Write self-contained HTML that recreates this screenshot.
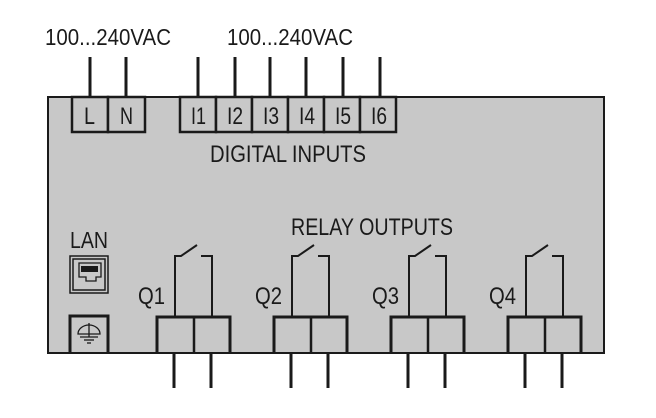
<!DOCTYPE html>
<html><head><meta charset="utf-8"><style>
html,body{margin:0;padding:0;background:#fff;}
svg{display:block;}
text{font-family:"Liberation Sans Narrow","Liberation Sans",sans-serif;fill:#1a1a1a;}
</style></head><body>
<svg width="656" height="418" viewBox="0 0 656 418" xmlns="http://www.w3.org/2000/svg">
<rect x="0" y="0" width="656" height="418" fill="#fff"/>
<text x="45" y="45" font-size="23" textLength="126" lengthAdjust="spacingAndGlyphs">100...240VAC</text>
<text x="227" y="45" font-size="23" textLength="126" lengthAdjust="spacingAndGlyphs">100...240VAC</text>
<g stroke="#1a1a1a" stroke-width="3">
<line x1="90" y1="57" x2="90" y2="97"/><line x1="126" y1="57" x2="126" y2="97"/>
<line x1="198" y1="57" x2="198" y2="97"/><line x1="235" y1="57" x2="235" y2="97"/>
<line x1="270" y1="57" x2="270" y2="97"/><line x1="306" y1="57" x2="306" y2="97"/>
<line x1="343" y1="57" x2="343" y2="97"/><line x1="380" y1="57" x2="380" y2="97"/>
</g>
<rect x="48" y="97" width="556" height="256" fill="#c8c8c8" stroke="#1a1a1a" stroke-width="2"/>
<g fill="#c8c8c8" stroke="#1a1a1a" stroke-width="2.5">
<rect x="72" y="97" width="36" height="35"/><rect x="108" y="97" width="37" height="35"/>
<rect x="180" y="97" width="36" height="35"/><rect x="216" y="97" width="36" height="35"/>
<rect x="252" y="97" width="36" height="35"/><rect x="288" y="97" width="36" height="35"/>
<rect x="324" y="97" width="36" height="35"/><rect x="360" y="97" width="36" height="35"/>
</g>
<g font-size="24">
<text x="84" y="124" textLength="11" lengthAdjust="spacingAndGlyphs">L</text>
<text x="120" y="124" textLength="13" lengthAdjust="spacingAndGlyphs">N</text>
<text x="191" y="124" textLength="15" lengthAdjust="spacingAndGlyphs">I1</text>
<text x="227" y="124" textLength="16" lengthAdjust="spacingAndGlyphs">I2</text>
<text x="263" y="124" textLength="16" lengthAdjust="spacingAndGlyphs">I3</text>
<text x="299" y="124" textLength="16" lengthAdjust="spacingAndGlyphs">I4</text>
<text x="335" y="124" textLength="16" lengthAdjust="spacingAndGlyphs">I5</text>
<text x="371" y="124" textLength="16" lengthAdjust="spacingAndGlyphs">I6</text>
</g>
<text x="210" y="162" font-size="24" textLength="156" lengthAdjust="spacingAndGlyphs">DIGITAL INPUTS</text>
<text x="291" y="235" font-size="24" textLength="162" lengthAdjust="spacingAndGlyphs">RELAY OUTPUTS</text>
<text x="70" y="248" font-size="23" textLength="38" lengthAdjust="spacingAndGlyphs">LAN</text>
<rect x="70" y="256" width="38" height="37" fill="none" stroke="#1a1a1a" stroke-width="1.5"/>
<rect x="73" y="259" width="32" height="31" fill="none" stroke="#1a1a1a" stroke-width="1.5"/>
<path d="M79 263 H101 V277 H96 V281 H86 V277 H79 Z" fill="none" stroke="#1a1a1a" stroke-width="1.3"/>
<rect x="81" y="266" width="17" height="6" fill="#1a1a1a"/>
<path d="M70 353 V316 H108 V353" fill="none" stroke="#1a1a1a" stroke-width="3"/>
<g stroke="#1a1a1a" stroke-width="1.3" fill="none">
<path d="M78 334 A11 9 0 0 1 100 334 Z"/><line x1="89" y1="323" x2="89" y2="337"/>
<line x1="80" y1="337" x2="98" y2="337"/><line x1="84" y1="340" x2="94" y2="340"/><line x1="87" y1="343" x2="91" y2="343"/>
</g>
<g id="q">
<g stroke="#1a1a1a" fill="none">
<path d="M175 317 V256 H181 L197 245" stroke-width="2"/>
<path d="M201 256 H212 V317" stroke-width="2"/>
<path d="M157 353 V317 H230 V353" stroke-width="3"/>
<line x1="194" y1="317" x2="194" y2="353" stroke-width="2.5"/>
<line x1="174" y1="353" x2="174" y2="388" stroke-width="3"/>
<line x1="211" y1="353" x2="211" y2="388" stroke-width="3"/>
</g>
</g>
<use href="#q" x="117"/><use href="#q" x="234"/><use href="#q" x="351"/>
<g font-size="24">
<text x="138" y="304" textLength="27" lengthAdjust="spacingAndGlyphs">Q1</text>
<text x="255" y="304" textLength="27" lengthAdjust="spacingAndGlyphs">Q2</text>
<text x="372" y="304" textLength="27" lengthAdjust="spacingAndGlyphs">Q3</text>
<text x="489" y="304" textLength="27" lengthAdjust="spacingAndGlyphs">Q4</text>
</g>
</svg>
</body></html>
